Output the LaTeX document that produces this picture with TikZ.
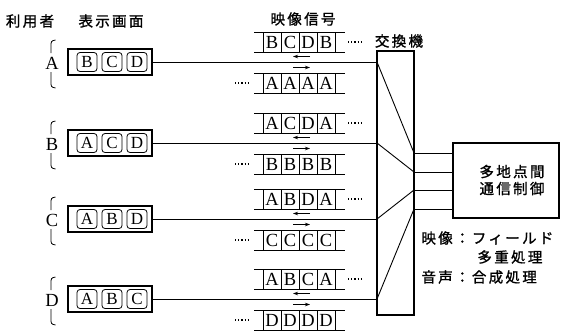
\documentclass[tikz,border=0pt]{standalone}
\usepackage{fontspec}
\setmainfont{Liberation Serif}
\newfontfamily\jp[LetterSpace=16,FakeBold=1.2]{Noto Sans CJK JP}
\usetikzlibrary{arrows.meta}
\begin{document}
\begin{tikzpicture}[x=1pt,y=-1pt,line width=0.9pt,
  jpt/.style={font=\jp\fontsize{14.5}{17}\selectfont, inner sep=0pt},
  lat/.style={font=\fontsize{18.5}{18}\selectfont, inner sep=0pt},
  cell/.style={draw, line width=0.8pt, minimum width=18pt, minimum height=20pt, inner sep=0pt, outer sep=0pt, font=\fontsize{18.5}{18}\selectfont},
  dispbox/.style={draw, line width=1.3pt, minimum width=84pt, minimum height=26pt, inner sep=0pt, outer sep=0pt},
  chip/.style={draw, line width=0.8pt, rounded corners=3pt, minimum width=20pt, minimum height=19pt, inner sep=0pt, font=\fontsize{17}{17}\selectfont},
  dotline/.style={line width=1.1pt, dash pattern=on 1.2pt off 2pt},
  sarrow/.style={line width=0.8pt, -{Stealth[length=5pt,width=3.5pt]}},
  brace/.style={line width=0.8pt},
  stripline/.style={line width=0.9pt}
]
\useasboundingbox (0,0) rectangle (561,330);

% headers
\node[jpt] (hUser) at (30,21) {利用者};
\node[jpt] (hDisp) at (111,21) {表示画面};
\node[jpt] (hSig) at (303,19) {映像信号};
\node[jpt] (hSw) at (399,41) {交換機};

% switch
\node[draw, line width=1.1pt, minimum width=37pt, minimum height=264pt, inner sep=0pt, outer sep=0pt] (sw) at (395.5,183) {};

% multipoint control unit
\node[draw, line width=1.3pt, minimum width=106pt, minimum height=75pt, inner sep=0pt, outer sep=0pt] (mcu) at (506,180.5) {};
\node[jpt, align=center] (mcuText) at (512,180) {多地点間\\通信制御};

% ports
\coordinate (p1) at (414,153);
\coordinate (p2) at (414,172);
\coordinate (p3) at (414,190);
\coordinate (p4) at (414,209);
\foreach \p in {1,2,3,4} \draw (p\p) -- (mcu.west |- p\p);

% notes
\node[jpt, anchor=west] (n1) at (421,238) {映像：フィールド};
\node[jpt, anchor=west] (n2) at (477,257) {多重処理};
\node[jpt, anchor=west] (n3) at (421,277) {音声：合成処理};

% users
\foreach \u/\L/\da/\db/\dc/\oa/\ob/\oc/\od/\ii/\port in {
  A/62/B/C/D/B/C/D/B/A/1,
  B/143/A/C/D/A/C/D/A/B/2,
  C/219/A/B/D/A/B/D/A/C/3,
  D/299/A/B/C/A/B/C/A/D/4}{
  \node[lat] (user\u) at (52,\L+1) {\u};
  \draw[brace] (55.5,\L-22) .. controls (51,\L-21) .. (51,\L-15) -- (51,\L-9);
  \draw[brace] (51,\L+10) -- (51,\L+19) .. controls (51,\L+25) .. (55.5,\L+26);
  \node[dispbox] (disp\u) at (110,\L) {};
  \node[chip] (chip\u1) at (87,\L) {\da};
  \node[chip] (chip\u2) at (112,\L) {\db};
  \node[chip] (chip\u3) at (137,\L) {\dc};
  \coordinate (swin\u) at (377,\L);
  \draw (disp\u.east) -- (swin\u);
  \draw (swin\u) -- (p\port);
  % outgoing strip (to user)
  \draw[stripline] (254,\L-30) -- (345,\L-30);
  \draw[stripline] (254,\L-10) -- (345,\L-10);
  \node[cell] (out\u1) at (272,\L-20) {\oa};
  \node[cell] (out\u2) at (290,\L-20) {\ob};
  \node[cell] (out\u3) at (308,\L-20) {\oc};
  \node[cell] (out\u4) at (326,\L-20) {\od};
  \draw[dotline] (348,\L-20) -- (363,\L-20);
  % incoming strip (from user)
  \draw[stripline] (254,\L+11) -- (345,\L+11);
  \draw[stripline] (254,\L+31) -- (345,\L+31);
  \node[cell] (in\u1) at (272,\L+21) {\ii};
  \node[cell] (in\u2) at (290,\L+21) {\ii};
  \node[cell] (in\u3) at (308,\L+21) {\ii};
  \node[cell] (in\u4) at (326,\L+21) {\ii};
  \draw[dotline] (235,\L+21) -- (250,\L+21);
  % direction arrows
  \draw[sarrow] (310,\L-5.5) -- (293,\L-5.5);
  \draw[sarrow] (293,\L+5.5) -- (310,\L+5.5);
}
\end{tikzpicture}
\end{document}
